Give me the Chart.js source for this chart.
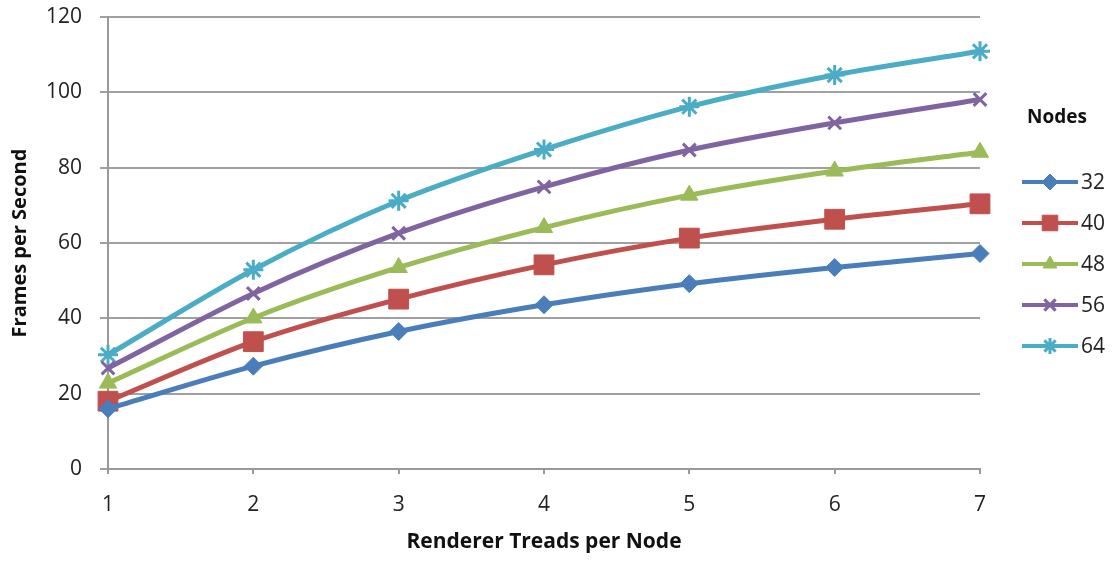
<!DOCTYPE html>
<html>
<head>
<meta charset="utf-8">
<script src="https://cdn.jsdelivr.net/npm/chart.js@4.4.0/dist/chart.umd.min.js"></script>
<style>
  html, body { margin: 0; padding: 0; background: #fff; }
  #wrap { width: 1114px; height: 561px; position: relative; }
</style>
</head>
<body>
<div id="wrap"><canvas id="c" width="1114" height="561"></canvas></div>
<script>
// categories and series
const threads = ['1', '2', '3', '4', '5', '6', '7'];
const nodes32 = [16, 27.3, 36.5, 43.6, 49.2, 53.5, 57.2];
const nodes40 = [18, 33.8, 45.1, 54.2, 61.3, 66.3, 70.4];
const nodes48 = [22.8, 40.1, 53.5, 64.1, 72.7, 79.1, 84.1];
const nodes56 = [26.8, 46.6, 62.6, 74.9, 84.7, 91.9, 98.1];
const nodes64 = [30.3, 52.9, 71.2, 84.8, 96.2, 104.6, 110.9];
const yTicks = [0, 20, 40, 60, 80, 100, 120];

const FONT = '"Open Sans", "Liberation Sans", sans-serif';

function series(label, data, color, style, radius) {
  return {
    label, data,
    borderColor: color, backgroundColor: color,
    borderWidth: 5,
    pointStyle: style, pointRadius: radius, pointHoverRadius: radius,
    pointBorderWidth: style === 'crossRot' || style === 'star' ? 3 : 1,
    tension: 0.3,
    fill: false,
  };
}

const datasets = [
  series('32', nodes32, '#4a7ebb', 'rectRot', 9),
  series('40', nodes40, '#c0504d', 'rect', 14),
  series('48', nodes48, '#9bbb59', 'triangle', 10),
  series('56', nodes56, '#8064a2', 'crossRot', 9),
  series('64', nodes64, '#4bacc6', 'star', 10),
];

// legend drawn by hand on the right
const sideLegend = {
  id: 'sideLegend',
  afterDraw(chart) {
    const ctx = chart.ctx;
    ctx.save();
    ctx.fillStyle = '#111';
    ctx.font = 'bold 19px ' + FONT;
    ctx.textBaseline = 'middle';
    ctx.textAlign = 'left';
    ctx.fillText('Nodes', 1027, 118);
    const rows = [182, 223, 264, 305, 346];
    chart.data.datasets.forEach((ds, i) => {
      const y = rows[i];
      ctx.strokeStyle = ds.borderColor;
      ctx.lineWidth = 4;
      ctx.beginPath();
      ctx.moveTo(1022, y);
      ctx.lineTo(1078, y);
      ctx.stroke();
      ctx.fillStyle = ds.backgroundColor;
      ctx.lineWidth = ds.pointBorderWidth;
      Chart.helpers.drawPoint(ctx, {
        pointStyle: ds.pointStyle, rotation: 0,
        radius: ds.pointStyle === 'rect' ? 11 : 8,
        borderWidth: ds.pointBorderWidth,
      }, 1050, y);
      ctx.fillStyle = '#222';
      ctx.font = '21px ' + FONT;
      ctx.fillText(ds.label, 1081, y + 1);
    });
    ctx.restore();
  }
};

new Chart(document.getElementById('c'), {
  type: 'line',
  data: { labels: threads, datasets },
  plugins: [sideLegend],
  options: {
    responsive: false,
    animation: false,
    layout: { padding: { left: 0, top: 17, right: 134, bottom: 0 } },
    plugins: { legend: { display: false }, tooltip: { enabled: false } },
    scales: {
      x: {
        offset: false,
        grid: { display: true, drawOnChartArea: false, color: '#999', lineWidth: 2, tickLength: 5 },
        border: { color: '#999', width: 2 },
        ticks: { color: '#222', font: { size: 21, family: FONT }, padding: 18, maxRotation: 0 },
        title: { display: true, text: 'Renderer Treads per Node', color: '#111',
                 font: { size: 21, weight: 'bold', family: FONT }, padding: { top: 6, bottom: 6 } },
        afterFit: (s) => { s.height = 92; },
      },
      y: {
        min: 0, max: 120,
        afterBuildTicks: (s) => { s.ticks = yTicks.map(v => ({ value: v })); },
        grid: { color: '#a0a0a0', lineWidth: 2, tickLength: 8 },
        border: { color: '#999', width: 2 },
        ticks: { color: '#222', font: { size: 21, family: FONT }, padding: 18 },
        title: { display: true, text: 'Frames per Second', color: '#111',
                 font: { size: 20, weight: 'bold', family: FONT }, padding: { top: 8, bottom: 4 } },
        afterFit: (s) => { s.width = 108; s.paddingTop = 0; s.paddingBottom = 0; },
      },
    },
  },
});
</script>
</body>
</html>
